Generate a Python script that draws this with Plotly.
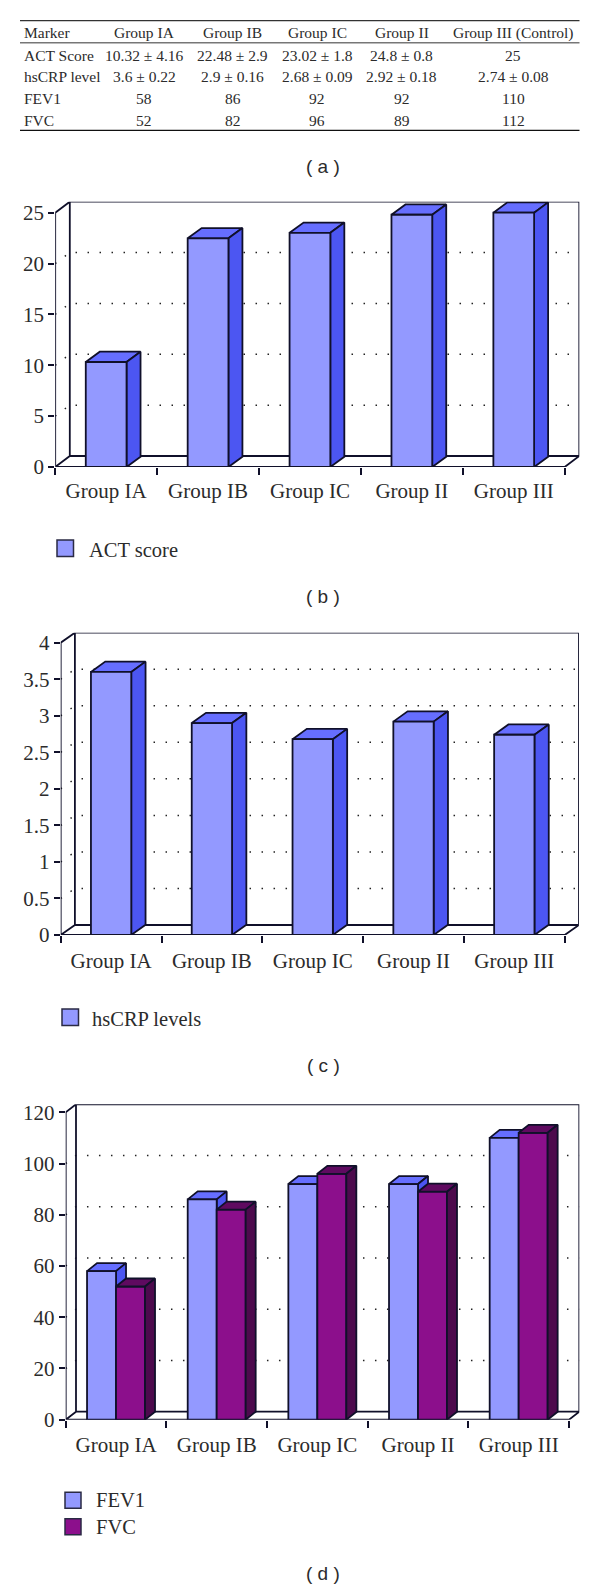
import plotly.graph_objects as go

GROUPS = ["Group IA", "Group IB", "Group IC", "Group II", "Group III"]
ACT = [10.32, 22.48, 23.02, 24.8, 25]
HSCRP = [3.6, 2.9, 2.68, 2.92, 2.74]
FEV1 = [58, 86, 92, 92, 110]
FVC = [52, 82, 96, 89, 112]

TABLE_COLS = [
    ["Marker", "ACT Score", "hsCRP level", "FEV1", "FVC"],
    ["Group IA", "10.32 ± 4.16", "3.6 ± 0.22", "58", "52"],
    ["Group IB", "22.48 ± 2.9", "2.9 ± 0.16", "86", "82"],
    ["Group IC", "23.02 ± 1.8", "2.68 ± 0.09", "92", "96"],
    ["Group II", "24.8 ± 0.8", "2.92 ± 0.18", "92", "89"],
    ["Group III (Control)", "25", "2.74 ± 0.08", "110", "112"],
]

W, H = 600, 1589
SERIF = "Liberation Serif"
DARK = "#10102a"
TXT = "#2b2b2b"
BLUE = ("#9399ff", "#4c56f2", "#666eff")
PURPLE = ("#8c0f8c", "#4d0a4d", "#5f0a60")


def py(v):
    return 1 - v / H


fig = go.Figure()
layout = dict(
    width=W, height=H, margin=dict(l=0, r=0, t=0, b=0, pad=0, autoexpand=False), autosize=False,
    paper_bgcolor="white", plot_bgcolor="rgba(0,0,0,0)", showlegend=False,
    barmode="overlay", shapes=[], annotations=[],
    font=dict(family=SERIF, color=TXT),
)


def poly(xs, ys, color, xa, ya):
    fig.add_trace(go.Scatter(x=xs, y=ys, mode="lines", fill="toself", fillcolor=color,
                             line=dict(color=DARK, width=1.8), xaxis=xa, yaxis=ya,
                             hoverinfo="skip", cliponaxis=False))


def chart(n, x0, x1, xb, y0, y1, yb, ymax, ticks, ticktext, series, barw, dxp, dyp, grid, std):
    """n: first axis number; x0/x1 front span in px; xb back right; y0/y1 front span; yb back top."""
    a, b = n, n + 1
    catw = (x1 - x0) / 5
    ux = 1 / catw
    uy = ymax / (y0 - y1)
    xmax = (xb - x0) * ux
    ytop = (y0 - yb) * uy
    wx = (xb - x1) * ux          # wall depth, category units
    wy = ytop - ymax             # wall depth, value units
    bx, by = dxp * ux, dyp * uy  # bar depth
    xa, ya, xa2, ya2 = f"x{a}", f"y{a}", f"x{b}", f"y{b}"
    centers = [i + 0.5 for i in range(5)]

    for v in grid:
        fig.add_trace(go.Scatter(x=[0, wx, xmax], y=[v, v + wy, v + wy], mode="lines",
                                 line=dict(color="#222222", width=1.5, dash="1.5px,10.5px"),
                                 xaxis=xa, yaxis=ya, hoverinfo="skip", cliponaxis=False))
    frame_x = [0, 0, wx, xmax, xmax, 5, 0, wx, wx, wx, xmax]
    frame_y = [0, ymax, ytop, ytop, wy, 0, 0, wy, ytop, wy, wy]
    fig.add_trace(go.Scatter(x=frame_x, y=frame_y, mode="lines", line=dict(color=DARK, width=1.8),
                             xaxis=xa, yaxis=ya, hoverinfo="skip", cliponaxis=False))

    total = barw * len(series)
    for k, (name, vals, cols) in enumerate(series):
        off = -total / 2 + k * barw
        first = k == 0
        lx, ly = (xa, ya) if first else (xa2, ya2)
        fig.add_trace(go.Bar(x=centers, y=vals, width=barw, offset=off, name=name,
                             marker=dict(color=cols[0], line=dict(color=DARK, width=1.8)),
                             xaxis=xa2, yaxis=ya2, hovertemplate="%{y}<extra>" + name + "</extra>"))
        for c, v in zip(centers, vals):
            l, r = c + off, c + off + barw
            poly([l, l + bx, r + bx, r, l], [v, v + by, v + by, v, v], cols[2], lx, ly)
            poly([r, r + bx, r + bx, r, r], [v, v + by, by, 0, v], cols[1], lx, ly)

    xdom = [x0 / W, xb / W]
    ydom = [py(y0), py(yb)]
    layout[f"xaxis{a}"] = dict(domain=xdom, range=[0, xmax], anchor=ya, tickmode="array",
                               tickvals=centers, ticktext=GROUPS, ticks="", showgrid=False,
                               zeroline=False, showline=False,
                               tickfont=dict(family=SERIF, size=21, color=TXT), ticklabelstandoff=std)
    layout[f"yaxis{a}"] = dict(domain=ydom, range=[0, ytop], anchor=xa, tickmode="array",
                               tickvals=ticks, ticktext=ticktext, ticks="outside", ticklen=6,
                               tickwidth=1.8, tickcolor=DARK, showgrid=False, zeroline=False,
                               showline=False, tickfont=dict(family=SERIF, size=21, color=TXT))
    layout[f"xaxis{b}"] = dict(domain=xdom, range=[0, xmax], anchor=ya2, overlaying=xa,
                               tickmode="array", tickvals=list(range(6)), ticks="outside",
                               ticklen=7, tickwidth=1.8, tickcolor=DARK, showticklabels=False,
                               showgrid=False, zeroline=False, showline=False)
    layout[f"yaxis{b}"] = dict(domain=ydom, range=[0, ytop], anchor=xa2, overlaying=ya,
                               showticklabels=False, ticks="", showgrid=False, zeroline=False,
                               showline=False)


chart(1, 55.2, 564.7, 579.3, 467, 212.7, 201.7, 25, [0, 5, 10, 15, 20, 25],
      ["0", "5", "10", "15", "20", "25"], [("ACT score", ACT, BLUE)], 0.4, 14, 10.3,
      [5, 10, 15, 20], 9)
chart(3, 60.7, 564.7, 578.9, 935, 642.7, 632.7, 4, [0, 0.5, 1, 1.5, 2, 2.5, 3, 3.5, 4],
      ["0", "0.5", "1", "1.5", "2", "2.5", "3", "3.5", "4"], [("hsCRP levels", HSCRP, BLUE)],
      0.4, 14.3, 10.3, [0.5, 1, 1.5, 2, 2.5, 3, 3.5], 11)
chart(5, 65.7, 569, 579.3, 1419.7, 1112.3, 1104.3, 120, [0, 20, 40, 60, 80, 100, 120],
      ["0", "20", "40", "60", "80", "100", "120"],
      [("FEV1", FEV1, BLUE), ("FVC", FVC, PURPLE)], 0.288, 10, 8,
      [20, 40, 60, 80, 100], 10)


def rule(y, color, width):
    layout["shapes"].append(dict(type="line", xref="paper", yref="paper", x0=20 / W, x1=579.5 / W,
                                 y0=py(y), y1=py(y), line=dict(color=color, width=width)))


rule(20.7, "#333333", 1.2)
rule(42.7, "#777777", 1.6)
rule(130.3, "#111111", 1.2)


def text(x, y, s, size=20, family=SERIF, xanchor="left"):
    layout["annotations"].append(dict(x=x / W, y=py(y), xref="paper", yref="paper", text=s,
                                      showarrow=False, xanchor=xanchor, yanchor="middle",
                                      borderpad=0, borderwidth=0,
                                      font=dict(family=family, size=size, color=TXT)))


# table (a)
COL_X = [24, 144, 232.7, 317, 401.7, 513.3]
ROW_Y = [32.8, 55.5, 76.5, 98.5, 120.5]
for col, x in zip(TABLE_COLS, COL_X):
    for cell, y in zip(col, ROW_Y):
        text(x, y, cell, size=15.5, xanchor="left" if x == COL_X[0] else "center")


def swatch(x, y, s, color):
    layout["shapes"].append(dict(type="rect", xref="paper", yref="paper", x0=x / W, x1=(x + s) / W,
                                 y0=py(y), y1=py(y + s), fillcolor=color,
                                 line=dict(color="#2a2a44", width=1.5)))


for cap, y in zip(["( a )", "( b )", "( c )", "( d )"], [166.5, 596.5, 1065.5, 1573.5]):
    text(323, y, cap, size=19, family="Liberation Sans", xanchor="center")

swatch(57, 540, 16.5, BLUE[0])
text(89, 550, "ACT score", size=20.5)
swatch(62, 1009, 16.5, BLUE[0])
text(92, 1019, "hsCRP levels", size=20.5)
swatch(65, 1492.3, 16, BLUE[0])
text(96, 1500, "FEV1", size=20.5)
swatch(65, 1518.7, 16, PURPLE[0])
text(96, 1527, "FVC", size=20.5)

fig.update_layout(**layout)
fig.write_html("out.html", config=dict(displayModeBar=False),
               post_script="document.body.style.margin='0';")
